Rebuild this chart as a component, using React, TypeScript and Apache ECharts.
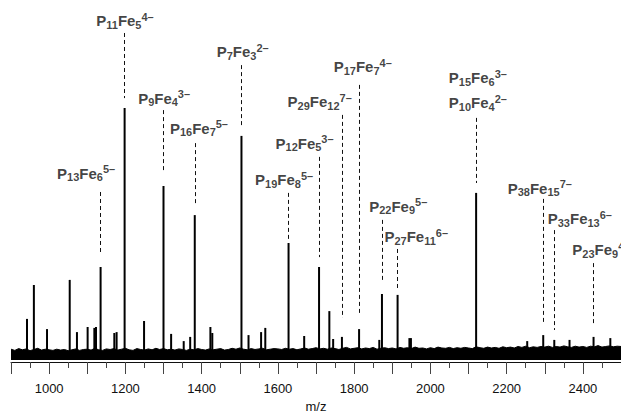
import React, { useEffect, useRef } from 'react';
import * as echarts from 'echarts';

// Peak positions (m/z) and intensities (arbitrary units, baseline = 0)
const peakMz = [942, 960, 994.5, 1054, 1073, 1101, 1118.6, 1123, 1135, 1171, 1177, 1198, 1249, 1300, 1320, 1353, 1370, 1382, 1423, 1428, 1504.5, 1523, 1556, 1567, 1628, 1669, 1708, 1735, 1745, 1768, 1813, 1866, 1873, 1914, 1945, 1949, 2120, 2254, 2296, 2325, 2365, 2428, 2472];
const peakIntensity = [13.7, 25, 10.3, 26.7, 9.3, 11, 10.7, 11, 31, 9, 9.3, 84, 13, 58, 8.7, 6.3, 7.7, 48.3, 11, 9, 74.7, 8.3, 9.3, 10.7, 39, 8, 31, 16.3, 7, 7.7, 10.3, 6.7, 22, 21.7, 7.3, 7.3, 55.7, 6.3, 8.3, 6.7, 6.7, 7.7, 7.3];

// Baseline noise envelope, every 10 m/z from 900 to 2500
const noiseStartMz = 900;
const noiseStepMz = 10;
const noiseLevel = [
  3.6, 3.2, 3.8, 3.4, 3.7, 3.1, 3.5, 3.9, 3.3, 3.6,
  3.4, 3.2, 3.6, 3.3, 3.5, 3.1, 3.4, 3.7, 3.2, 3.5,
  3.6, 3.3, 3.9, 3.4, 3.2, 3.7, 3.5, 3.8, 3.3, 3.6,
  3.9, 3.4, 3.2, 3.8, 3.5, 3.3, 3.7, 3.4, 3.9, 3.5,
  3.8, 3.4, 3.6, 3.3, 3.7, 3.5, 3.2, 3.6, 3.4, 3.8,
  3.5, 3.3, 3.7, 3.4, 3.6, 3.8, 3.3, 3.5, 3.9, 3.6,
  4.0, 3.6, 3.4, 3.8, 3.5, 3.7, 3.9, 3.4, 3.6, 3.8,
  3.7, 3.5, 3.9, 3.6, 3.8, 3.4, 3.7, 4.0, 3.6, 3.8,
  4.1, 3.7, 3.9, 3.6, 4.0, 3.8, 3.5, 3.9, 4.2, 3.7,
  3.9, 4.1, 3.7, 4.0, 3.8, 4.2, 3.6, 3.9, 4.1, 3.8,
  4.0, 3.7, 4.2, 3.9, 4.1, 3.8, 4.3, 3.9, 4.0, 3.7,
  4.1, 3.8, 4.3, 4.0, 3.9, 4.2, 3.8, 4.1, 3.9, 4.2,
  4.0, 3.8, 4.4, 4.1, 3.9, 4.3, 4.0, 4.2, 3.9, 4.4,
  4.1, 4.3, 4.0, 4.5, 4.2, 4.6, 4.1, 4.4, 4.2, 4.5,
  4.3, 4.6, 4.2, 4.5, 4.3, 4.7, 4.4, 4.2, 4.6, 4.3,
  4.5, 4.2, 4.6, 4.4, 4.8, 4.3, 4.5, 4.7, 4.4, 4.6,
  4.5,
];

// Annotation labels: P_n Fe_m ^charge, anchored in data coordinates
const labelP = [13, 11, 9, 16, 7, 19, 12, 29, 17, 22, 27, 15, 10, 38, 33, 23];
const labelFe = [6, 5, 4, 7, 3, 8, 5, 12, 7, 9, 11, 6, 4, 15, 13, 9];
const labelCharge = ['5–', '4–', '3–', '5–', '2–', '5–', '3–', '7–', '4–', '5–', '6–', '3–', '2–', '7–', '6–', '4–'];
const labelMz = [1097, 1199, 1301.6, 1393, 1507.6, 1616.5, 1670, 1709.7, 1822.6, 1915.7, 1963, 2124.5, 2124.5, 2287, 2392, 2448.6];
const labelIntensity = [62.3, 113, 87.3, 77.3, 102.7, 60, 72.3, 86, 97.7, 51.3, 41, 94, 85.7, 57.3, 47, 36.7];

// Dashed assignment lines
const dashMz = [1135, 1198, 1300, 1382, 1504.5, 1628, 1708, 1768, 1813, 1873, 1914, 2120, 2296, 2325, 2428];
const dashTop = [56, 109, 83.3, 72.3, 98.3, 55.7, 67.7, 81.7, 91.7, 46.7, 37, 80.7, 53.7, 43.3, 32.3];
const dashBottom = [35, 87.3, 62.3, 51.7, 77.7, 40, 34.3, 14, 15, 25.7, 24, 59, 12.3, 10, 12.3];

const FONT = '"Liberation Sans", Arial, Helvetica, sans-serif';

export default function App() {
  const ref = useRef<HTMLDivElement>(null);

  useEffect(() => {
    document.body.style.margin = '0';
    if (!ref.current) return;
    const chart = echarts.init(ref.current, undefined, { renderer: 'svg' });

    const noiseData = noiseLevel.map((v, i) => [noiseStartMz + i * noiseStepMz, v]);
    const peakData = peakMz.map((m, i) => [m, peakIntensity[i]]);
    const labelData = labelMz.map((m, i) => ({
      value: [m, labelIntensity[i]],
      text: `{b|P}{s|${labelP[i]}}{b|Fe}{s|${labelFe[i]}}{u|${labelCharge[i]}}`,
    }));

    chart.setOption({
      animation: false,
      grid: { left: 11, right: 0, top: 0, bottom: 49, containLabel: false, outerBoundsMode: 'none' },
      xAxis: {
        type: 'value',
        min: 900,
        max: 2500,
        interval: 100,
        name: 'm/z',
        nameLocation: 'middle',
        nameGap: 38,
        nameTextStyle: { fontSize: 13, color: '#111', fontFamily: FONT },
        axisLine: { show: true, onZero: false, lineStyle: { color: '#111', width: 1 } },
        axisTick: { show: true, length: 12, lineStyle: { color: '#444', width: 1 } },
        minorTick: { show: true, splitNumber: 2, length: 6, lineStyle: { color: '#444', width: 1 } },
        splitLine: { show: false },
        minorSplitLine: { show: false },
        axisLabel: {
          margin: 20,
          fontSize: 13,
          color: '#111',
          fontFamily: FONT,
          formatter: (v: number) => (v % 200 === 0 ? String(v) : ''),
        },
      },
      yAxis: { type: 'value', min: -0.667, max: 120, show: false },
      series: [
        {
          type: 'line',
          data: noiseData,
          symbol: 'none',
          lineStyle: { color: '#000', width: 1 },
          areaStyle: { color: '#000', opacity: 1 },
          z: 2,
          markLine: {
            silent: true,
            symbol: ['none', 'none'],
            label: { show: false },
            lineStyle: { type: [4, 3], color: '#111', width: 1 },
            data: dashMz.map((m, i) => [
              { coord: [m, dashTop[i]] },
              { coord: [m, dashBottom[i]] },
            ]),
          },
        },
        {
          type: 'bar',
          data: peakData,
          barWidth: 2,
          itemStyle: { color: '#000' },
          z: 3,
        },
        {
          type: 'scatter',
          data: labelData,
          symbolSize: 1,
          itemStyle: { color: 'rgba(0,0,0,0)' },
          z: 4,
          label: {
            show: true,
            position: 'inside',
            color: '#111',
            formatter: (p: any) => p.data.text,
            rich: {
              b: { fontSize: 15, fontWeight: 'bold', fontFamily: FONT, lineHeight: 19, verticalAlign: 'middle', color: '#111' },
              s: { fontSize: 11, fontWeight: 'bold', fontFamily: FONT, lineHeight: 11, verticalAlign: 'bottom', color: '#111' },
              u: { fontSize: 11, fontWeight: 'bold', fontFamily: FONT, lineHeight: 11, verticalAlign: 'top', color: '#111' },
            },
          },
        },
      ],
    });

    return () => chart.dispose();
  }, []);

  return <div ref={ref} style={{ width: 621, height: 411 }} />;
}
